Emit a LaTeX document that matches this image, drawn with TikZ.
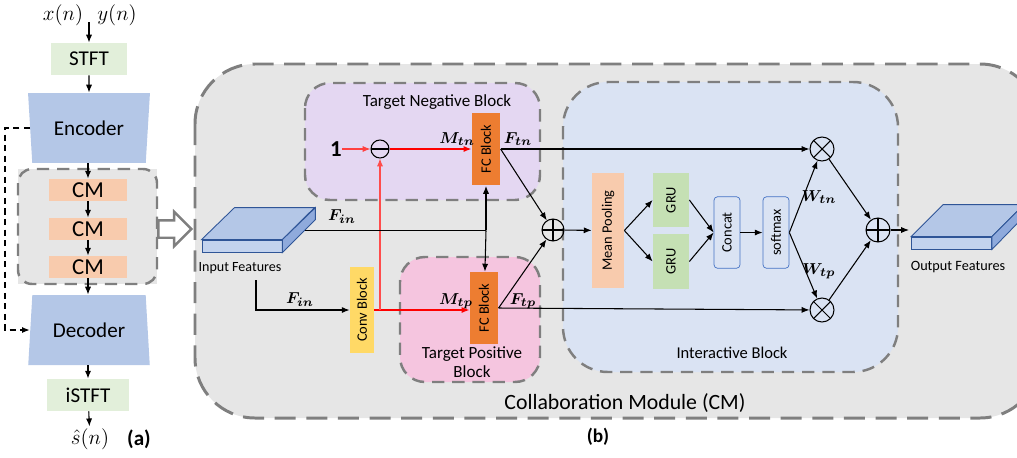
\documentclass[tikz,border=0pt]{standalone}
\usepackage{fontspec}
\setmainfont{Carlito}
\usepackage{amsmath,bm}
\usetikzlibrary{shapes.geometric,shapes.arrows,arrows.meta,calc}
\definecolor{stftgreen}{HTML}{E2EFDA}
\definecolor{codecblue}{HTML}{B4C7E7}
\definecolor{cmorange}{HTML}{F8CBAD}
\definecolor{bggray}{HTML}{E6E6E6}
\definecolor{dashgray}{HTML}{7F7F7F}
\definecolor{negpurple}{HTML}{E4D7F2}
\definecolor{pospink}{HTML}{F5C5DF}
\definecolor{fcorange}{HTML}{ED7D31}
\definecolor{convyellow}{HTML}{FFD966}
\definecolor{interblue}{HTML}{DAE3F3}
\definecolor{grugreen}{HTML}{C5E0B4}
\definecolor{edgeblue}{HTML}{4472C4}
\definecolor{featfront}{HTML}{C3D3EE}
\definecolor{featside}{HTML}{8FAADC}
\definecolor{featedge}{HTML}{2F5597}

\begin{document}
\begin{tikzpicture}[
  x=0.02cm, y=-0.02cm,
  afont/.style={font=\fontsize{12}{14}\selectfont},
  bfont/.style={font=\fontsize{8.2}{9.5}\selectfont},
  abox/.style={rectangle, inner sep=0, afont},
  codec/.style={trapezium, trapezium left angle=80, trapezium right angle=80,
                trapezium stretches=true, minimum width=2.44cm, minimum height=1.4cm,
                fill=codecblue, inner sep=0, afont},
  cmbox/.style={abox, fill=cmorange, minimum width=1.58cm, minimum height=0.44cm,
                font=\fontsize{13}{14}\selectfont},
  blk/.style={rectangle, inner sep=0, bfont},
  fcbox/.style={blk, fill=fcorange, minimum width=0.57cm},
  rbox/.style={blk, rounded corners=2pt, draw=edgeblue, fill=interblue,
               minimum width=0.52cm, minimum height=1.43cm},
  grp/.style={draw=dashgray, line width=1.4pt, dash pattern=on 7pt off 4.5pt},
  feat/.style={rectangle, draw=featedge, fill=featfront, line width=0.5pt,
               minimum width=1.6cm, minimum height=0.24cm, inner sep=0},
  mlbl/.style={font=\fontsize{9.5}{10}\selectfont, inner sep=0},
  arr/.style={-{Latex[length=4.5pt,width=3.5pt]}, line width=0.6pt},
  redarr/.style={arr, red},
  dasharr/.style={-{Latex[length=4.5pt,width=3.5pt]}, line width=1.1pt, dash pattern=on 3.5pt off 2.5pt},
  opl/.style={circle, draw, line width=0.6pt, inner sep=0, minimum size=0.46cm,
    path picture={\draw[line width=0.6pt] (path picture bounding box.north) -- (path picture bounding box.south)
      (path picture bounding box.west) -- (path picture bounding box.east);}},
  otm/.style={circle, draw, line width=0.6pt, inner sep=0, minimum size=0.48cm,
    path picture={\draw[line width=0.6pt] (path picture bounding box.north west) -- (path picture bounding box.south east)
      (path picture bounding box.south west) -- (path picture bounding box.north east);}},
  omin/.style={circle, draw, line width=0.6pt, inner sep=0, minimum size=0.36cm,
    path picture={\draw[line width=0.6pt] (path picture bounding box.west) -- (path picture bounding box.east);}}
]
\useasboundingbox (0,0) rectangle (1017,457);
\clip (0,0) rectangle (1017,457);

%% ---- (a) codec column ----
\fill[bggray] (18,169) rectangle (157,284);
\draw[grp, rounded corners=0.28cm] (18,169) rectangle (157,284);

\node[afont] (xn) at (63,15) {$x(n)$};
\node[afont] (yn) at (117,15) {$y(n)$};
\coordinate (inxy) at (89,22);
\node[abox, fill=stftgreen, minimum width=1.52cm, minimum height=0.64cm] (stft) at (89,59) {STFT};
\node[codec, shape border rotate=180] (enc) at (89,128) {Encoder};
\node[cmbox] (cm1) at (88,190) {CM};
\node[cmbox] (cm2) at (88,229) {CM};
\node[cmbox] (cm3) at (88,267) {CM};
\node[codec] (dec) at (89,330) {Decoder};
\node[abox, fill=stftgreen, minimum width=1.66cm, minimum height=0.64cm] (istft) at (88,395) {iSTFT};
\node[afont, inner sep=1pt] (sn) at (90,439) {$\hat{s}(n)$};
\node[font=\fontsize{12}{14}\selectfont\bfseries, inner sep=1pt] (lbla) at (139,439) {(a)};

\draw[arr] (inxy) -- (stft);
\draw[arr] (stft) -- (enc);
\draw[arr] (enc.south -| cm1) -- (cm1);
\draw[arr] (cm1) -- (cm2);
\draw[arr] (cm2) -- (cm3);
\draw[arr] (cm3) -- (dec.north -| cm3);
\draw[arr] (dec.south -| istft) -- (istft);
\draw[arr] (istft) -- (sn);
% skip connection
\draw[dasharr] (enc.west) -- ++(-25,0) |- (dec.west);

\node[single arrow, draw=dashgray, fill=white, line width=1.4pt, inner xsep=0, inner ysep=0.15cm,
      single arrow head extend=0.17cm, minimum height=0.66cm] (bigarr) at (170.5,229) {};

%% ---- (b) collaboration module ----
\draw[grp, fill=bggray, line width=1.7pt, dash pattern=on 12pt off 6pt, rounded corners=1.2cm]
  (195,64) rectangle (1040,418);
\node[font=\fontsize{12.4}{14}\selectfont] (cmlbl) at (625,403) {Collaboration Module (CM)};
\node[font=\fontsize{11}{13}\selectfont\bfseries] (lblb) at (598,437) {(b)};

% group boxes
\draw[grp, fill=negpurple, rounded corners=0.5cm] (305,83) rectangle (540,200);
\draw[grp, fill=pospink, rounded corners=0.5cm] (400,257) rectangle (540,382);
\draw[grp, fill=interblue, rounded corners=0.9cm] (563,82) rectangle (898,372);
\node[font=\fontsize{9.7}{11}\selectfont] (tnblbl) at (437,102) {Target Negative Block};
\node[font=\fontsize{9.7}{11}\selectfont, align=center] (tpblbl) at (472,362) {Target Positive\\Block};
\node[font=\fontsize{9.4}{11}\selectfont] (iblbl) at (732,353) {Interactive Block};

% input features
\node[feat] (inp) at (242,246) {};
\filldraw[draw=featedge, fill=codecblue, line width=0.5pt]
  (inp.north west) -- ++(33,-32) -- ++(80,0) -- (inp.north east) -- cycle;
\filldraw[draw=featedge, fill=featside, line width=0.5pt]
  (inp.north east) -- ++(33,-32) -- ++(0,12) -- (inp.south east) -- cycle;
\node[font=\fontsize{8}{9}\selectfont] (inplbl) at (240,268) {Input Features};
\coordinate (finA) at ($(inp.south east)+(23,-22)$);
\coordinate (finB) at (256,280);

% target negative / positive
\node[font=\fontsize{13}{14}\selectfont, inner sep=0] (one) at (336,149) {$\mathbf{1}$};
\node[omin] (minus) at (380,149) {};
\node[fcbox, minimum height=1.46cm] (fct) at (486,149) {\rotatebox{90}{FC Block}};
\node[blk, fill=convyellow, minimum width=0.48cm, minimum height=1.72cm] (conv) at (362,310) {\rotatebox{90}{Conv Block}};
\node[fcbox, minimum height=1.44cm] (fcb) at (484,308) {\rotatebox{90}{FC Block}};
\node[opl, minimum size=0.44cm] (plusa) at (553,230) {};

% interactive block
\node[blk, fill=cmorange, minimum width=0.64cm, minimum height=2.3cm] (mp) at (608,230.5) {\rotatebox{90}{Mean Pooling}};
\node[blk, fill=grugreen, minimum width=0.72cm, minimum height=1.08cm] (grua) at (671,200) {\rotatebox{90}{GRU}};
\node[blk, fill=grugreen, minimum width=0.72cm, minimum height=1.1cm] (grub) at (671,261.5) {\rotatebox{90}{GRU}};
\node[rbox] (cat) at (727,232.5) {\rotatebox{90}{Concat}};
\node[rbox] (smx) at (776,232.5) {\rotatebox{90}{softmax}};
\node[otm] (mt) at (822,149) {};
\node[otm] (mb) at (822,310) {};
\node[opl, minimum size=0.48cm] (plusb) at (878,230) {};

% output features
\node[feat] (outp) at (951.5,243) {};
\filldraw[draw=featedge, fill=codecblue, line width=0.5pt]
  (outp.north west) -- ++(32,-32) -- ++(81,0) -- (outp.north east) -- cycle;
\filldraw[draw=featedge, fill=featside, line width=0.5pt]
  (outp.north east) -- ++(32,-32) -- ++(0,12) -- (outp.south east) -- cycle;
\node[font=\fontsize{8.1}{9}\selectfont] (outlbl) at (958,267) {Output Features};
\coordinate (outA) at (909,230);

% labels
\node[mlbl] (lfina) at (342,217) {$\bm{F}_{\bm{in}}$};
\node[mlbl] (lfinb) at (300,300) {$\bm{F}_{\bm{in}}$};
\node[mlbl] (lmtn) at (457,139) {$\bm{M}_{\bm{tn}}$};
\node[mlbl] (lftn) at (518,139) {$\bm{F}_{\bm{tn}}$};
\node[mlbl] (lmtp) at (456,301) {$\bm{M}_{\bm{tp}}$};
\node[mlbl] (lftp) at (523,301) {$\bm{F}_{\bm{tp}}$};
\node[mlbl] (lwtn) at (819,197) {$\bm{W}_{\bm{tn}}$};
\node[mlbl] (lwtp) at (819,271) {$\bm{W}_{\bm{tp}}$};

%% ---- connectors ----
\draw[redarr, red!75] (one) -- (minus);
\draw[redarr] (minus) -- (fct);
\draw[redarr] (conv) -- (conv -| fcb.west);
\draw[redarr, red!70] (minus |- conv) -- (minus);
\draw[line width=0.9pt] (finA) -- (fct |- finA) coordinate (jn);
\draw[arr] (jn) -- (fct);
\draw[arr] (jn) -- (fcb);
\draw[arr] (finB) |- (conv);
\draw[arr] (fct.east) -- (mt);
\draw[arr] (fcb.east) -- (mb);
\draw[arr] (fct.east) -- (plusa);
\draw[arr] (fcb.east) -- (plusa);
\draw[arr] (plusa) -- (mp);
\draw[arr] (mp.east) -- (grua.west);
\draw[arr] (mp.east) -- (grub.west);
\draw[arr] (grua.east) -- (cat.west);
\draw[arr] (grub.east) -- (cat.west);
\draw[arr] (cat) -- (smx);
\draw[arr] (smx.east) -- (mt);
\draw[arr] (smx.east) -- (mb);
\draw[arr] (mt) -- (plusb);
\draw[arr] (mb) -- (plusb);
\draw[arr] (plusb) -- (outA);
\end{tikzpicture}
\end{document}
